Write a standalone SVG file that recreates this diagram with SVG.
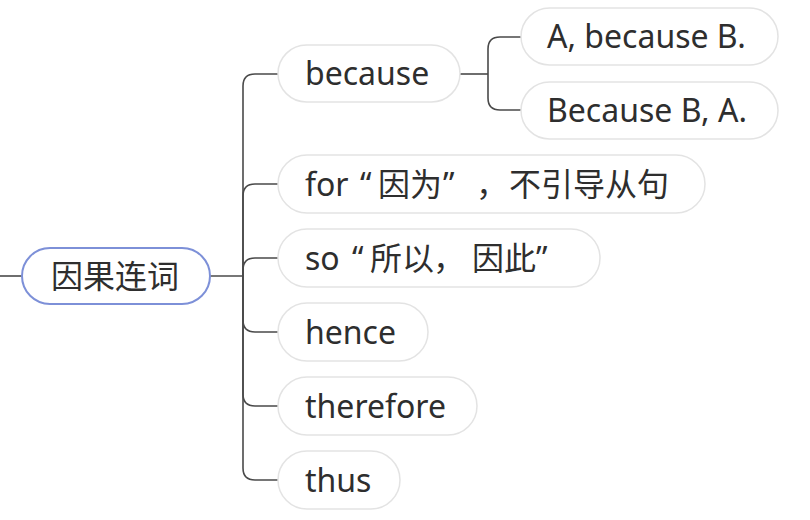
<svg xmlns="http://www.w3.org/2000/svg" width="810" height="520" viewBox="0 0 810 520">
<style>
.pill{fill:#ffffff;stroke:#e3e3e3;stroke-width:1.5}
.root{fill:#ffffff;stroke:#7d90d8;stroke-width:2}
.t{font-family:"Noto Sans","Noto Sans CJK SC",sans-serif;font-size:32px;fill:#2e2e2e}
.c{fill:none;stroke:#4a4a4a;stroke-width:1.6}
</style>
<rect width="810" height="520" fill="#ffffff"/>
<g id="connectors">
<path class="c" d="M0,276 H22"/>
<path class="c" d="M210,276 H243"/>
<path class="c" d="M243,276 V86 Q243,74 255,74 H278"/>
<path class="c" d="M243,276 V196 Q243,184 255,184 H278"/>
<path class="c" d="M243,276 V270 Q243,258 255,258 H278"/>
<path class="c" d="M243,276 V320 Q243,332 255,332 H278"/>
<path class="c" d="M243,276 V394 Q243,406 255,406 H278"/>
<path class="c" d="M243,276 V468 Q243,480 255,480 H278"/>
<path class="c" d="M460,74 H488"/>
<path class="c" d="M488,74 V49 Q488,37 500,37 H521"/>
<path class="c" d="M488,74 V98 Q488,110 500,110 H521"/>
</g>
<g id="root">
<rect class="root" x="22" y="248" width="188" height="56" rx="28"/>
<text class="t" x="115" y="288" text-anchor="middle">因果连词</text>
</g>
<g id="because">
<rect class="pill" x="278" y="45" width="182" height="57" rx="28.5"/>
<text class="t" x="305" y="85">because</text>
</g>
<g id="a-because-b">
<rect class="pill" x="521" y="8" width="257" height="57" rx="28.5"/>
<text class="t" x="547" y="48">A, because B.</text>
</g>
<g id="because-b-a">
<rect class="pill" x="521" y="82" width="257" height="57" rx="28.5"/>
<text class="t" x="547" y="122">Because B, A.</text>
</g>
<g id="for">
<rect class="pill" x="278" y="155" width="427" height="58" rx="29"/>
<text class="t" y="196"><tspan x="305">for</tspan><tspan x="360">“</tspan><tspan x="378">因为</tspan><tspan x="443">”</tspan><tspan x="476">，</tspan><tspan x="509">不引导从句</tspan></text>
</g>
<g id="so">
<rect class="pill" x="278" y="229" width="322" height="58" rx="29"/>
<text class="t" y="270"><tspan x="305">so</tspan><tspan x="352">“</tspan><tspan x="370">所以</tspan><tspan x="433">，</tspan><tspan x="472">因此</tspan><tspan x="536">”</tspan></text>
</g>
<g id="hence">
<rect class="pill" x="278" y="303" width="150" height="58" rx="29"/>
<text class="t" x="305" y="344">hence</text>
</g>
<g id="therefore">
<rect class="pill" x="278" y="377" width="199" height="58" rx="29"/>
<text class="t" x="305" y="418">therefore</text>
</g>
<g id="thus">
<rect class="pill" x="278" y="451" width="122" height="58" rx="29"/>
<text class="t" x="305" y="492">thus</text>
</g>
</svg>
